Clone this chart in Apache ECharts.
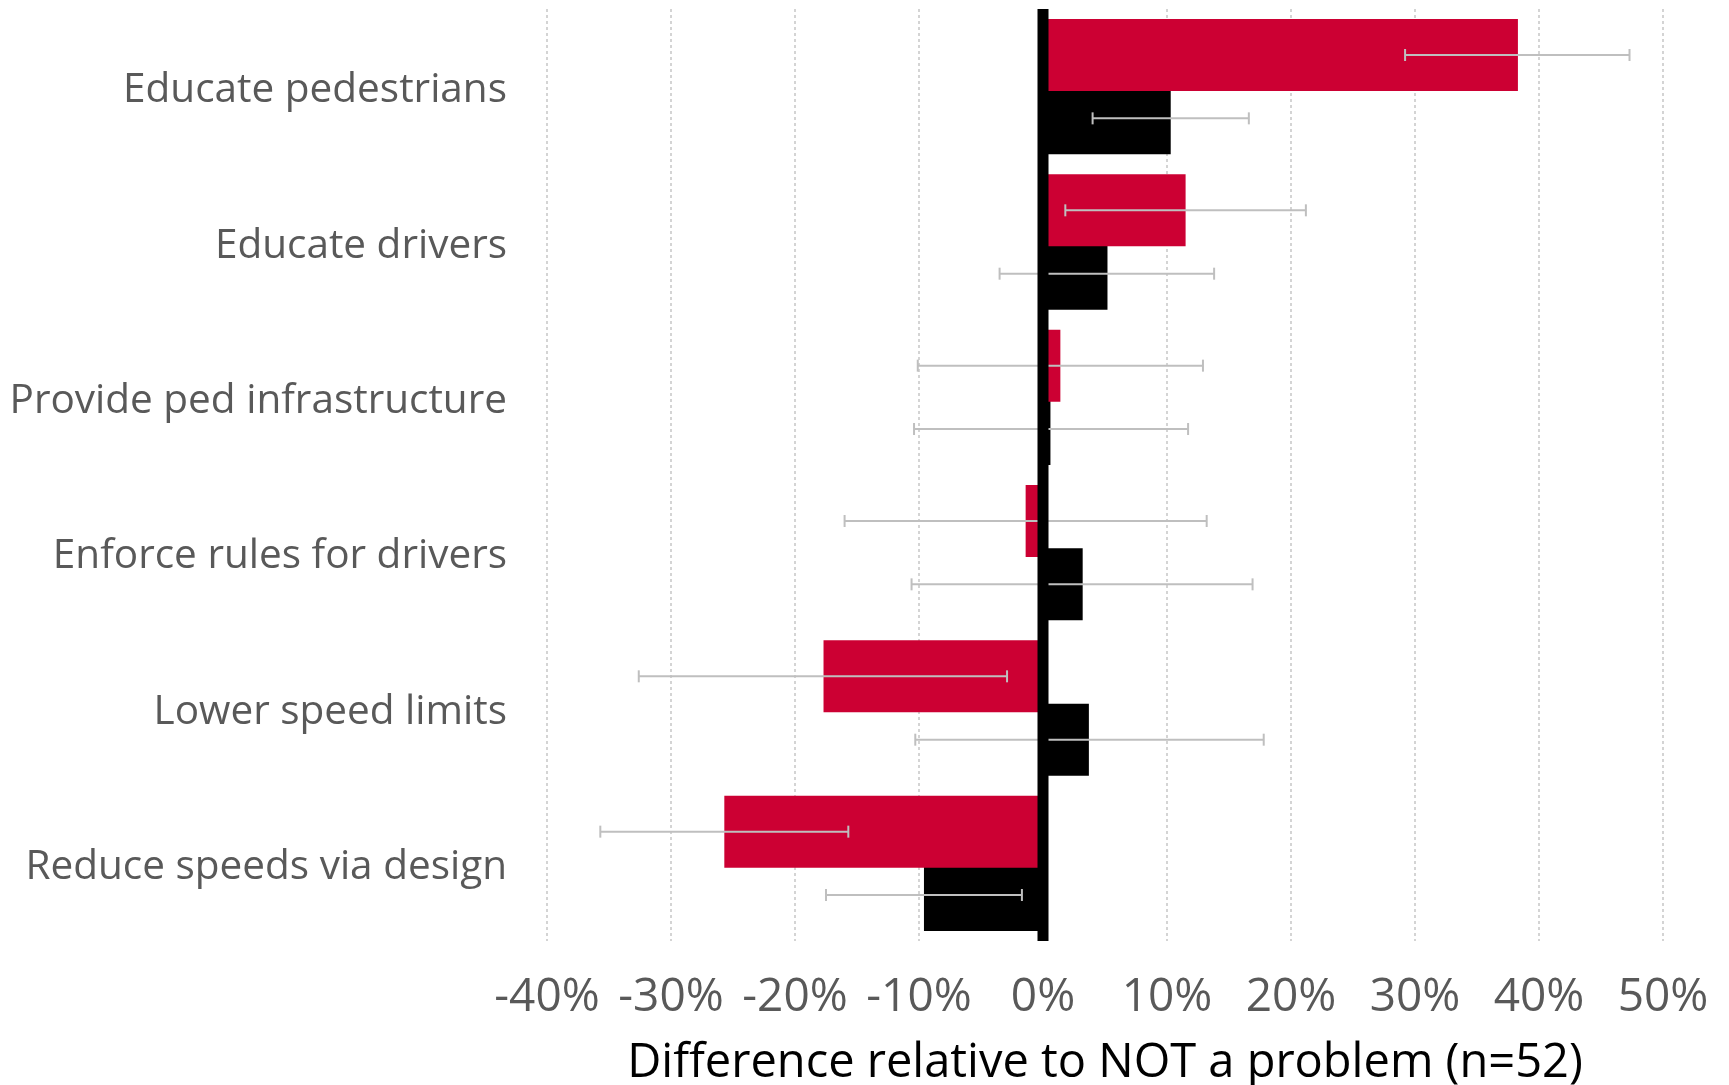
<!DOCTYPE html>
<html>
<head>
<meta charset="utf-8">
<title>Difference relative to NOT a problem</title>
<script src="https://cdn.jsdelivr.net/npm/echarts@6/dist/echarts.min.js"></script>
<style>
  html, body { margin: 0; padding: 0; background: #ffffff; }
  #chart { width: 1729px; height: 1085px; }
</style>
</head>
<body>
<div id="chart"></div>
<script>
// Interventions, listed top to bottom
const categories = [
  'Educate pedestrians',
  'Educate drivers',
  'Provide ped infrastructure',
  'Enforce rules for drivers',
  'Lower speed limits',
  'Reduce speeds via design'
];

// Red group: difference (%) and its interval bounds
const redValues = [38.3, 11.5, 1.4, -1.4, -17.7, -25.7];
const redLow    = [29.2, 1.8, -10.1, -16.0, -32.6, -35.7];
const redHigh   = [47.3, 21.2, 12.9, 13.2, -2.9, -15.7];

// Black group: difference (%) and its interval bounds
const blackValues = [10.3, 5.2, 0.6, 3.2, 3.7, -9.6];
const blackLow    = [4.0, -3.5, -10.4, -10.6, -10.3, -17.5];
const blackHigh   = [16.6, 13.8, 11.7, 16.9, 17.8, -1.7];

// Value axis ticks (percent)
const axisMin = -40;
const axisMax = 50;
const axisStep = 10;

const RED = '#cc0033';
const BLACK = '#000000';
const ERR = '#bfbfbf';
const TEXT_GREY = '#595959';
const FONT = '"Open Sans", Lato, sans-serif';

const BAR_W = 72;          // bar thickness in px
const BAR_GAP = -0.12;     // bars in a pair overlap slightly
const CAP_H = 12;          // whisker cap length

function errorSeries(name, low, high, side) {
  return {
    type: 'custom',
    name: name,
    z: 5,
    silent: true,
    encode: { x: [0, 1], y: 2 },
    data: low.map((lo, i) => [lo, high[i], i]),
    renderItem: function (params, api) {
      const cat = api.value(2);
      const a = api.coord([api.value(0), cat]);
      const b = api.coord([api.value(1), cat]);
      const shift = side * (BAR_W + BAR_W * BAR_GAP) / 2;
      const y = a[1] + shift;
      const h = CAP_H / 2;
      const style = { stroke: ERR, lineWidth: 2 };
      return {
        type: 'group',
        children: [
          { type: 'line', shape: { x1: a[0], y1: y, x2: b[0], y2: y }, style: style },
          { type: 'line', shape: { x1: a[0], y1: y - h, x2: a[0], y2: y + h }, style: style },
          { type: 'line', shape: { x1: b[0], y1: y - h, x2: b[0], y2: y + h }, style: style }
        ]
      };
    }
  };
}

const chart = echarts.init(document.getElementById('chart'), null, { renderer: 'canvas' });

chart.setOption({
  backgroundColor: '#ffffff',
  animation: false,
  grid: {
    left: 547, right: 66, top: 9, bottom: 144,
    containLabel: false,
    outerBoundsMode: 'none'
  },
  xAxis: {
    type: 'value',
    min: axisMin,
    max: axisMax,
    interval: axisStep,
    axisLine: { show: false },
    axisTick: { show: false },
    splitLine: { show: true, lineStyle: { color: '#d4d4d4', width: 2, type: [3, 3] } },
    axisLabel: {
      formatter: '{value}%',
      color: TEXT_GREY,
      fontFamily: FONT,
      fontSize: 46,
      margin: 34
    },
    name: 'Difference relative to NOT a problem (n=52)',
    nameLocation: 'middle',
    nameGap: 99,
    nameTextStyle: { color: '#000000', fontFamily: FONT, fontSize: 47 }
  },
  yAxis: {
    type: 'category',
    inverse: true,
    data: categories,
    axisLine: { show: false, onZero: false },
    axisTick: { show: false },
    splitLine: { show: false },
    axisLabel: {
      margin: 40,
      formatter: function (v) { return '{t|' + v + '}'; },
      rich: {
        t: {
          color: TEXT_GREY,
          fontFamily: FONT,
          fontSize: 40.5,
          padding: [8, 0, 0, 0]
        }
      }
    }
  },
  series: [
    {
      type: 'bar',
      name: 'Group A',
      data: redValues,
      barWidth: BAR_W,
      barGap: (BAR_GAP * 100) + '%',
      itemStyle: { color: RED },
      z: 3
    },
    {
      type: 'bar',
      name: 'Group B',
      data: blackValues,
      barWidth: BAR_W,
      barGap: (BAR_GAP * 100) + '%',
      itemStyle: { color: BLACK },
      z: 2
    },
    errorSeries('Group A interval', redLow, redHigh, -1),
    errorSeries('Group B interval', blackLow, blackHigh, 1),
    {
      // heavy zero line drawn over the bars and whiskers
      type: 'custom',
      name: 'zero',
      z: 10,
      silent: true,
      data: [[0]],
      encode: { x: 0 },
      renderItem: function (params, api) {
        const cs = params.coordSys;
        const x = api.coord([0, 0])[0];
        return {
          type: 'line',
          shape: { x1: x, y1: cs.y, x2: x, y2: cs.y + cs.height },
          style: { stroke: BLACK, lineWidth: 11 }
        };
      }
    }
  ]
});
</script>
</body>
</html>
